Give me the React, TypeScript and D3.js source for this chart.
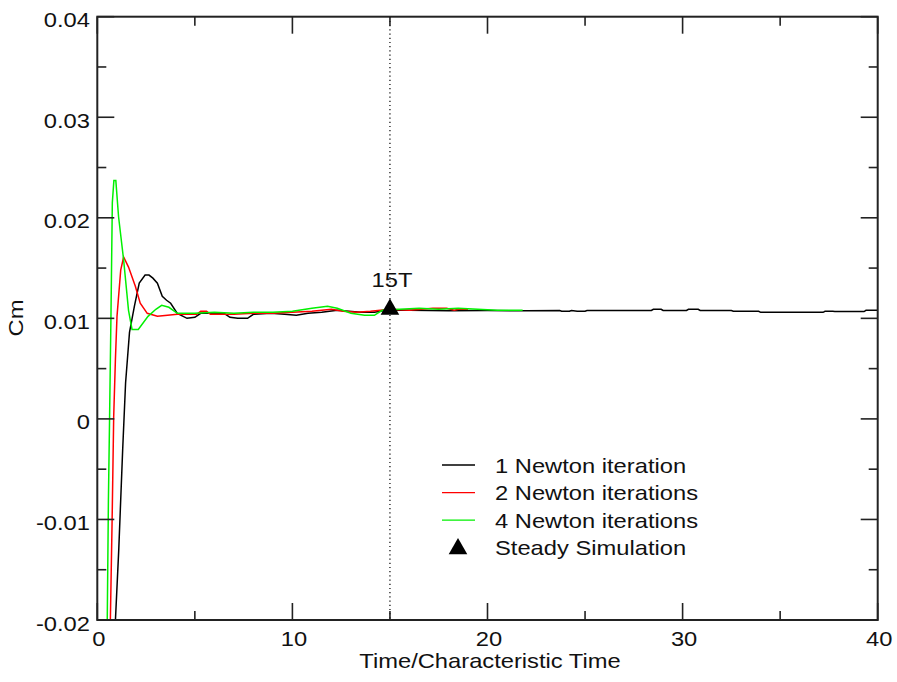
import React from "react";
import * as d3 from "d3";

const xDomain: [number, number] = [0, 40];
const yDomain: [number, number] = [-0.02, 0.04];
const xMajorTicks = [0, 10, 20, 30, 40];
const xMinorTicks = [5, 15, 25, 35];
const yMajorTicks = [-0.02, -0.01, 0, 0.01, 0.02, 0.03, 0.04];
const yMinorTicks = [-0.015, -0.005, 0.005, 0.015, 0.025, 0.035];
const yTickLabels = ["-0.02", "-0.01", "0", "0.01", "0.02", "0.03", "0.04"];

const oneNewton: [number, number][] = [
  [0.85, -0.025], [0.93, -0.02], [1.1, -0.013], [1.3, -0.0031], [1.45, 0.0036],
  [1.65, 0.0086], [1.9, 0.0112], [2.15, 0.0135], [2.45, 0.0143], [2.65, 0.0143],
  [2.85, 0.014], [3.08, 0.0135], [3.33, 0.0122], [3.55, 0.0118], [3.76, 0.0115],
  [4.1, 0.0105], [4.6, 0.01], [5.0, 0.0101], [5.3, 0.0105], [6.5, 0.0105],
  [6.8, 0.0101], [7.2, 0.01], [7.7, 0.01], [8.0, 0.0104], [8.9, 0.0105],
  [9.6, 0.0104], [10.2, 0.0103], [10.8, 0.0105], [11.5, 0.0106], [12.3, 0.0108],
  [12.9, 0.0107], [13.5, 0.0106], [14.2, 0.0106], [14.8, 0.0108], [16, 0.0108],
  [18, 0.01075], [20, 0.01078], [22, 0.01075], [23.7, 0.01078], [23.8, 0.0107],
  [24.2, 0.0107], [24.3, 0.01078], [24.6, 0.0107], [25, 0.0107], [25.1, 0.01078],
  [28.4, 0.01078], [28.5, 0.0109], [28.9, 0.0109], [29.0, 0.01078], [30.2, 0.01078],
  [30.3, 0.0109], [30.8, 0.0109], [30.9, 0.01078], [32.5, 0.01078], [32.6, 0.0107],
  [33.9, 0.0107], [34.0, 0.0106], [37.2, 0.0106], [37.3, 0.0107], [37.7, 0.0107],
  [37.8, 0.01068], [39.3, 0.01068], [39.4, 0.0108], [40, 0.0108],
];

const twoNewton: [number, number][] = [
  [0.6, -0.025], [0.67, -0.02], [0.76, -0.01], [0.84, 0.0002], [0.93, 0.006],
  [1.01, 0.0102], [1.2, 0.0148], [1.35, 0.0161], [1.6, 0.0151], [1.95, 0.0132],
  [2.2, 0.0115], [2.56, 0.0105], [3.08, 0.0102], [3.6, 0.0103], [4.1, 0.0104],
  [5.1, 0.0104], [5.3, 0.0107], [5.6, 0.0107], [5.8, 0.0104], [7, 0.0104],
  [8, 0.0105], [9, 0.0105], [10, 0.0106], [11, 0.0107], [12, 0.0109],
  [12.6, 0.0107], [13.3, 0.0106], [14, 0.0107], [15, 0.0109], [16, 0.0108],
  [17.2, 0.011], [17.9, 0.011], [18.3, 0.0108], [18.5, 0.0109], [19, 0.0109],
];

const fourNewton: [number, number][] = [
  [0.45, -0.025], [0.51, -0.02], [0.57, -0.008], [0.63, 0.0002], [0.7, 0.0102],
  [0.77, 0.0215], [0.85, 0.0237], [0.95, 0.0237], [1.09, 0.0201], [1.35, 0.0158],
  [1.6, 0.0108], [1.78, 0.0089], [2.1, 0.0089], [2.6, 0.0102], [3.0, 0.0109],
  [3.3, 0.0113], [3.67, 0.0111], [4.1, 0.0105], [5, 0.0105], [6, 0.0106],
  [7, 0.0105], [8, 0.0106], [9, 0.0106], [10, 0.0107], [11, 0.011],
  [11.8, 0.0112], [12.3, 0.011], [13.0, 0.0105], [13.7, 0.0103], [14.2, 0.0103],
  [14.6, 0.0108], [15.5, 0.0109], [16.5, 0.011], [17.5, 0.0109], [18.5, 0.011],
  [19.5, 0.0109], [20.5, 0.0108], [21.8, 0.0108],
];

const steady: [number, number][] = [[15, 0.011]];
const markerX = 15;
const markerLabel = "15T";

const legendLabels = ["1 Newton iteration", "2 Newton iterations", "4 Newton iterations", "Steady Simulation"];
const seriesColors = ["#000000", "#ff0000", "#00f000"];

const L = 97.3, R = 877.7, T = 16.7, B = 620;
const FONT = "'Liberation Sans', Arial, Helvetica, sans-serif";
const SX = 1.13;

function Txt(props: { x: number; y: number; anchor?: string; rotate?: number; children: React.ReactNode }) {
  const { x, y, anchor = "start", rotate = 0 } = props;
  return (
    <text
      transform={`translate(${x},${y}) rotate(${rotate}) scale(${SX},1)`}
      textAnchor={anchor}
      fontFamily={FONT}
      fontSize={21}
      fill="#111"
    >
      {props.children}
    </text>
  );
}

export default function App() {
  const x = d3.scaleLinear().domain(xDomain).range([L, R]);
  const y = d3.scaleLinear().domain(yDomain).range([B, T]);
  const line = d3.line<[number, number]>().x((d) => x(d[0])).y((d) => y(d[1]));
  const series = [oneNewton, twoNewton, fourNewton];
  const tri = d3.symbol().type(d3.symbolTriangle).size(150)();
  const frameColor = "#222";

  return (
    <svg width={897} height={682} style={{ position: "absolute", left: 0, top: 0, background: "#fff" }}>
      <defs>
        <clipPath id="plotclip">
          <rect x={L} y={T} width={R - L} height={B - T} />
        </clipPath>
      </defs>
      <rect x={0} y={0} width={897} height={682} fill="#fff" />
      <line x1={x(markerX)} x2={x(markerX)} y1={T} y2={B} stroke="#000" strokeWidth={1.2} strokeDasharray="1.2,3" />
      <g clipPath="url(#plotclip)">
        {series.map((s, i) => (
          <path key={i} d={line(s) || ""} fill="none" stroke={seriesColors[i]} strokeWidth={1.5} />
        ))}
      </g>
      {steady.map((d, i) => (
        <path key={i} d={tri || ""} transform={`translate(${x(d[0])},${y(d[1]) + 1})`} fill="#000" />
      ))}
      <Txt x={x(markerX) + 2} y={287} anchor="middle">{markerLabel}</Txt>
      <rect x={L} y={T} width={R - L} height={B - T} fill="none" stroke={frameColor} strokeWidth={2} />
      <g stroke={frameColor} strokeWidth={1.6}>
        {xMajorTicks.map((t) => (
          <g key={"xm" + t}>
            <line x1={x(t)} x2={x(t)} y1={B} y2={B - 17} />
            <line x1={x(t)} x2={x(t)} y1={T} y2={T + 17} />
          </g>
        ))}
        {xMinorTicks.map((t) => (
          <g key={"xn" + t}>
            <line x1={x(t)} x2={x(t)} y1={B} y2={B - 9} />
            <line x1={x(t)} x2={x(t)} y1={T} y2={T + 9} />
          </g>
        ))}
        {yMajorTicks.map((t) => (
          <g key={"ym" + t}>
            <line x1={L} x2={L + 17} y1={y(t)} y2={y(t)} />
            <line x1={R} x2={R - 17} y1={y(t)} y2={y(t)} />
          </g>
        ))}
        {yMinorTicks.map((t) => (
          <g key={"yn" + t}>
            <line x1={L} x2={L + 9} y1={y(t)} y2={y(t)} />
            <line x1={R} x2={R - 9} y1={y(t)} y2={y(t)} />
          </g>
        ))}
      </g>
      {xMajorTicks.map((t) => (
        <Txt key={"xl" + t} x={x(t) + 1.5} y={646} anchor="middle">{String(t)}</Txt>
      ))}
      {yMajorTicks.map((t, i) => (
        <Txt key={"yl" + t} x={90} y={y(t) + 10.5} anchor="end">{yTickLabels[i]}</Txt>
      ))}
      <Txt x={490} y={668} anchor="middle">Time/Characteristic Time</Txt>
      <Txt x={23} y={318} anchor="middle" rotate={-90}>Cm</Txt>
      {legendLabels.map((lab, i) => {
        const cy = 465 + i * 27.6;
        return (
          <g key={lab}>
            {i < 3 ? (
              <line x1={442} x2={475} y1={cy} y2={cy} stroke={seriesColors[i]} strokeWidth={1.3} />
            ) : (
              <path d={tri || ""} transform={`translate(458,${cy + 1})`} fill="#000" />
            )}
            <Txt x={495} y={cy + 7.5}>{lab}</Txt>
          </g>
        );
      })}
    </svg>
  );
}
